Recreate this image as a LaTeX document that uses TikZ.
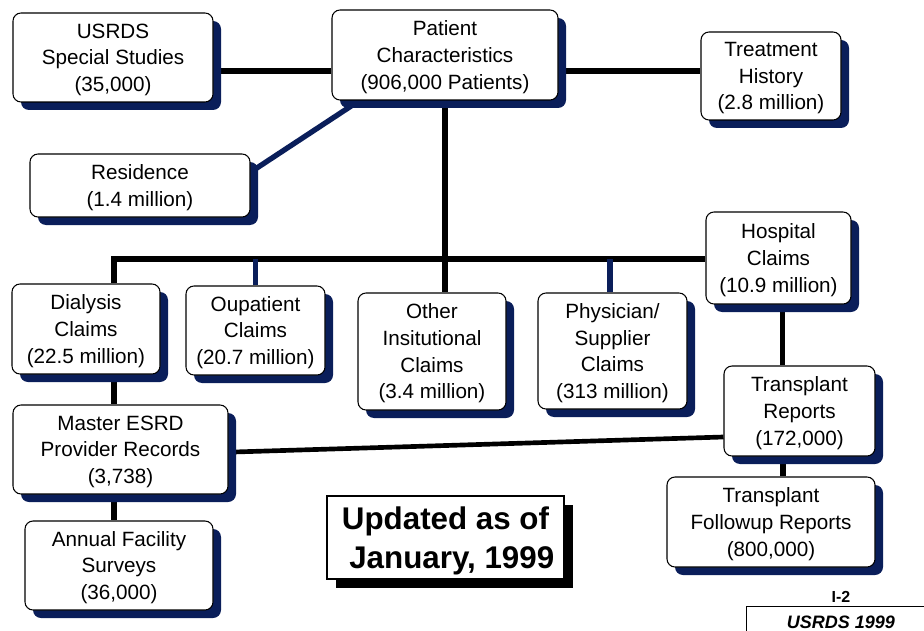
\documentclass[tikz,border=0pt]{standalone}
\usepackage{fontspec}
\setmainfont{Liberation Sans}
\usepackage{tikz}
\usetikzlibrary{calc}
\usetikzlibrary{shadows,backgrounds,shapes}
\usetikzlibrary{positioning}
\usepackage{xcolor}
\definecolor{navy}{RGB}{10,30,90}
\newcommand{\boxtext}{\fontsize{15.5}{20}\selectfont}
\newcommand{\bigtext}{\fontsize{23.5}{29}\selectfont\bfseries}

\begin{document}
\begin{tikzpicture}[x=0.75pt,y=-0.75pt,
      box/.style={draw,line width=0.8pt,rounded corners=6pt,fill=white,align=center,
        font=\boxtext,inner sep=1pt,text depth=-2.7pt,
        drop shadow={shadow xshift=6pt,shadow yshift=-6pt,fill=navy,opacity=1}},
      link/.style={line width=4pt,black},
      navylink/.style={line width=4pt,navy}]
      \useasboundingbox (0,0) rectangle (924,631);
      \node[box,minimum width=150pt,minimum height=66.75pt] (usrds) at (113,57.5)
        {USRDS\\Special Studies\\(35,000)};
      \node[box,minimum width=169.5pt,minimum height=67.5pt] (patient) at (445,55)
        {Patient\\Characteristics\\(906,000 Patients)};
      \node[box,minimum width=105pt,minimum height=66pt] (treat) at (771,76)
        {Treatment\\History\\(2.8 million)};
      \node[box,minimum width=165pt,minimum height=47.25pt] (resid) at (140,185.5)
        {Residence\\(1.4 million)};
      \node[box,minimum width=111pt,minimum height=67.5pt] (dialysis) at (86,329)
        {Dialysis\\Claims\\(22.5 million)};
      \node[box,minimum width=104.25pt,minimum height=66.75pt] (oupat) at (255.5,330.5)
        {Oupatient\\Claims\\(20.7 million)};
      \node[box,minimum width=111pt,minimum height=87.75pt] (other) at (432,351.5)
        {Other\\Insitutional\\Claims\\(3.4 million)};
      \node[box,minimum width=111.75pt,minimum height=87pt] (phys) at (612.5,351)
        {Physician/\\Supplier\\Claims\\(313 million)};
      \node[box,minimum width=108.75pt,minimum height=69pt] (hosp) at (778.5,258)
        {Hospital\\Claims\\(10.9 million)};
      \node[box,minimum width=113.25pt,minimum height=67.5pt] (transrep) at (799.5,411)
        {Transplant\\Reports\\(172,000)};
      \node[box,minimum width=161.25pt,minimum height=66.75pt] (master) at (120.5,449.5)
        {Master ESRD\\Provider Records\\(3,738)};
      \node[box,minimum width=141pt,minimum height=66.75pt] (annual) at (119,565.5)
        {Annual Facility\\Surveys\\(36,000)};
      \node[box,minimum width=156pt,minimum height=67.5pt] (followup) at (771,522)
        {Transplant\\Followup Reports\\(800,000)};
      \node[draw,line width=0.8pt,fill=white,align=center,font=\bigtext,text depth=-6pt,
        minimum width=177.75pt,minimum height=62.25pt,
        drop shadow={shadow xshift=7pt,shadow yshift=-7pt,fill=black,opacity=1}]
        (updated) at (445.5,537.5) {Updated as of\\\hspace*{0.4em}January, 1999};
      \node[draw,line width=0.6pt,minimum width=142.5pt,minimum height=24pt,
        font=\fontsize{13.5}{16}\selectfont\bfseries\itshape] (foot) at (841,622) {USRDS 1999};
      \node[above=2pt of foot,inner sep=0pt,font=\fontsize{12}{14}\selectfont\bfseries] (page) {I-2};
      \coordinate (busleft) at (114,259);
      \begin{scope}[on background layer]
        \draw[link] ([yshift=-12pt]patient.west) -- ([yshift=-12pt]patient.west -| usrds.east);
        \draw[link] ([yshift=-12pt]patient.east) -- ([yshift=-12pt]patient.east -| treat.west);
        \draw[navylink] ([xshift=21pt]patient.south west) -- ([yshift=10pt]resid.east);
        \draw[link] (patient.south) -- (patient.south |- other.north);
        \draw[link] (busleft |- dialysis.north) -- (busleft) -- (hosp.west |- busleft);
        \draw[navylink] (oupat.north) -- (oupat.north |- busleft);
        \draw[navylink] ([xshift=-2pt]phys.north) -- ([xshift=-2pt]phys.north |- busleft);
        \draw[link] ([xshift=3pt]hosp.south) -- ([xshift=3pt]hosp.south |- transrep.north);
        \draw[link] ([xshift=9pt]followup.north) -- ([xshift=9pt]followup.north |- transrep.south);
        \draw[link] (busleft |- dialysis.south) -- (busleft |- master.north);
        \draw[link] (busleft |- master.south) -- (busleft |- annual.north);
        \draw[link,line width=3.5pt] ([yshift=-2pt]master.east) -- ([yshift=-19.5pt]transrep.west);
      \end{scope}
\end{tikzpicture}
\end{document}
